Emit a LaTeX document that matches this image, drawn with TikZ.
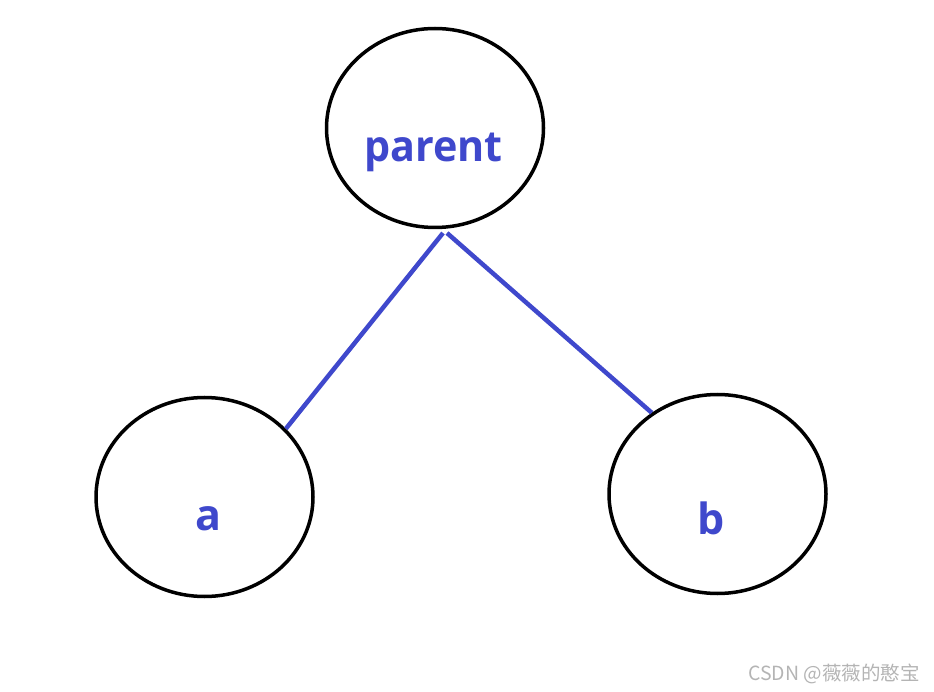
\documentclass[tikz,border=0pt]{standalone}
\usepackage{fontspec}
\setmainfont{Open Sans}
\newfontfamily\cjkfont{Noto Sans CJK SC}
\usetikzlibrary{shapes.geometric}
\definecolor{lblue}{HTML}{3F48CC}
\definecolor{wm}{HTML}{B4B4B4}
\tikzset{
  circ/.style={draw=black, line width=3.5pt, ellipse, minimum width=217pt, minimum height=199pt, inner sep=0pt},
  lbl/.style={text=lblue, font=\fontsize{43}{43}\selectfont\bfseries, anchor=base, inner sep=0pt},
  edge/.style={draw=lblue, line width=4.5pt},
}
\begin{document}
\begin{tikzpicture}[x=1pt,y=-1pt]
\useasboundingbox (0,0) rectangle (934,692);
\node[circ] (parent) at (435,128) {};
\node[circ] (a) at (204.5,497) {};
\node[circ] (b) at (717.5,494) {};
\node[lbl, xscale=0.96] (tparent) at (433.5,162) {parent};
\node[lbl] (ta) at (208,530) {a};
\node[lbl] (tb) at (711,534) {b};
\coordinate (pl) at (443,233);
\coordinate (pr) at (447,233);
\draw[edge] (pl) -- (a.40);
\draw[edge] (pr) -- (b.129);
\node[text=wm, font=\cjkfont\fontsize{19.5}{19.5}\selectfont, anchor=base east, inner sep=0pt] (wmark) at (920,680) {CSDN @薇薇的憨宝};
\end{tikzpicture}
\end{document}
